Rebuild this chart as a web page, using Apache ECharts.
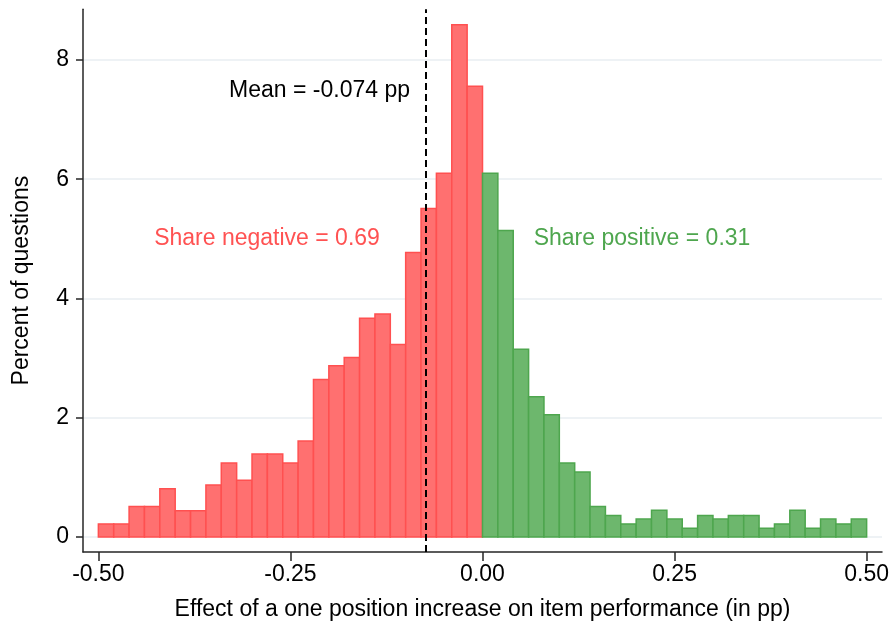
<!DOCTYPE html>
<html>
<head>
<meta charset="utf-8">
<script src="https://cdn.jsdelivr.net/npm/echarts@6/dist/echarts.min.js"></script>
<style>
  html, body { margin: 0; padding: 0; background: #ffffff; }
  #chart { width: 893px; height: 630px; }
</style>
</head>
<body>
<div id="chart"></div>
<script>
// Bin edges of the histogram (width 0.02 pp)
const negEdges = [-0.50, -0.48, -0.46, -0.44, -0.42, -0.40, -0.38, -0.36, -0.34, -0.32,
                  -0.30, -0.28, -0.26, -0.24, -0.22, -0.20, -0.18, -0.16, -0.14, -0.12,
                  -0.10, -0.08, -0.06, -0.04, -0.02, 0.00];
const posEdges = [0.00, 0.02, 0.04, 0.06, 0.08, 0.10, 0.12, 0.14, 0.16, 0.18,
                  0.20, 0.22, 0.24, 0.26, 0.28, 0.30, 0.32, 0.34, 0.36, 0.38,
                  0.40, 0.42, 0.44, 0.46, 0.48, 0.50];
// Percent of questions per bin
const negValues = [0.22, 0.22, 0.51, 0.51, 0.81, 0.44, 0.44, 0.87, 1.24, 0.95,
                   1.39, 1.39, 1.24, 1.61, 2.64, 2.87, 3.01, 3.67, 3.74, 3.23,
                   4.77, 5.51, 6.10, 8.59, 7.56];
const posValues = [6.10, 5.14, 3.15, 2.35, 2.05, 1.24, 1.09, 0.51, 0.36, 0.22,
                   0.30, 0.45, 0.30, 0.145, 0.36, 0.30, 0.36, 0.36, 0.145, 0.22,
                   0.45, 0.145, 0.30, 0.22, 0.30];
const meanEffect = -0.074;
const xTicks = [-0.50, -0.25, 0.00, 0.25, 0.50];
const yTicks = [0, 2, 4, 6, 8];
const labels = {
  mean: 'Mean = -0.074 pp',
  neg: 'Share negative = 0.69',
  pos: 'Share positive = 0.31',
  xName: 'Effect of a one position increase on item performance (in pp)',
  yName: 'Percent of questions'
};

function toBins(edges, values) {
  return values.map((v, i) => [edges[i], edges[i + 1], v]);
}

const FONT = '"Liberation Sans", Arial, Helvetica, sans-serif';
const AXIS_COLOR = '#262626';

function barRenderer(fill, stroke) {
  return function (params, api) {
    const p0 = api.coord([api.value(0), api.value(2)]);
    const p1 = api.coord([api.value(1), 0]);
    return {
      type: 'rect',
      shape: { x: p0[0], y: p0[1], width: p1[0] - p0[0], height: p1[1] - p0[1] },
      style: { fill: fill, stroke: stroke, lineWidth: 1.5 }
    };
  };
}

const chart = echarts.init(document.getElementById('chart'), null, { renderer: 'canvas' });

const option = {
  backgroundColor: '#ffffff',
  animation: false,
  textStyle: { fontFamily: FONT },
  grid: { left: 83, top: 9.3, width: 799, bottom: 78.1, containLabel: false },
  xAxis: {
    type: 'value',
    min: -0.52,
    max: 0.52,
    name: labels.xName,
    nameLocation: 'middle',
    nameGap: 46,
    nameTextStyle: { fontSize: 23, color: '#000', fontFamily: FONT },
    axisLine: { show: true, onZero: false, lineStyle: { color: AXIS_COLOR, width: 1.5 } },
    axisTick: { show: true, customValues: xTicks, length: 9, lineStyle: { color: AXIS_COLOR, width: 1.5 } },
    axisLabel: {
      customValues: xTicks, fontSize: 23, color: '#000', margin: 11, fontFamily: FONT,
      formatter: v => v.toFixed(2)
    },
    splitLine: { show: false }
  },
  yAxis: {
    type: 'value',
    min: -0.25,
    max: 8.85,
    name: labels.yName,
    nameLocation: 'middle',
    nameGap: 50,
    nameTextStyle: { fontSize: 23, color: '#000', fontFamily: FONT },
    axisLine: { show: true, onZero: false, lineStyle: { color: AXIS_COLOR, width: 1.5 } },
    axisTick: { show: true, customValues: yTicks, length: 7, lineStyle: { color: AXIS_COLOR, width: 1.5 } },
    axisLabel: { customValues: yTicks, fontSize: 23, color: '#000', margin: 14, fontFamily: FONT },
    splitLine: { show: false }
  },
  series: [
    {
      name: 'grid',
      type: 'line',
      data: [],
      z: 0,
      silent: true,
      markLine: {
        silent: true,
        z: 0,
        symbol: ['none', 'none'],
        label: { show: false },
        lineStyle: { color: '#e8eef2', width: 1.5, type: 'solid' },
        data: yTicks.map(v => ({ yAxis: v }))
      }
    },
    {
      name: 'negative',
      type: 'custom',
      z: 3,
      renderItem: barRenderer('#ff7070', '#ff5050'),
      encode: { x: [0, 1], y: 2 },
      data: toBins(negEdges, negValues)
    },
    {
      name: 'positive',
      type: 'custom',
      z: 3,
      renderItem: barRenderer('#6db76d', '#4ea64e'),
      encode: { x: [0, 1], y: 2 },
      data: toBins(posEdges, posValues)
    },
    {
      name: 'mean',
      type: 'line',
      data: [],
      z: 8,
      silent: true,
      markLine: {
        silent: true,
        z: 8,
        precision: 4,
        symbol: ['none', 'none'],
        label: { show: false },
        lineStyle: { color: '#000', width: 2, type: [7, 4] },
        data: [{ xAxis: meanEffect }]
      }
    }
  ],
  graphic: [
    {
      type: 'text', x: 410, y: 91, z: 10,
      style: { text: labels.mean, fontSize: 23, fontFamily: FONT, fill: '#000', align: 'right', verticalAlign: 'middle' }
    },
    {
      type: 'text', x: 267, y: 239, z: 10,
      style: { text: labels.neg, fontSize: 23, fontFamily: FONT, fill: '#ff5252', align: 'center', verticalAlign: 'middle' }
    },
    {
      type: 'text', x: 642, y: 239, z: 10,
      style: { text: labels.pos, fontSize: 23, fontFamily: FONT, fill: '#4ea64e', align: 'center', verticalAlign: 'middle' }
    }
  ]
};

chart.setOption(option);
</script>
</body>
</html>
